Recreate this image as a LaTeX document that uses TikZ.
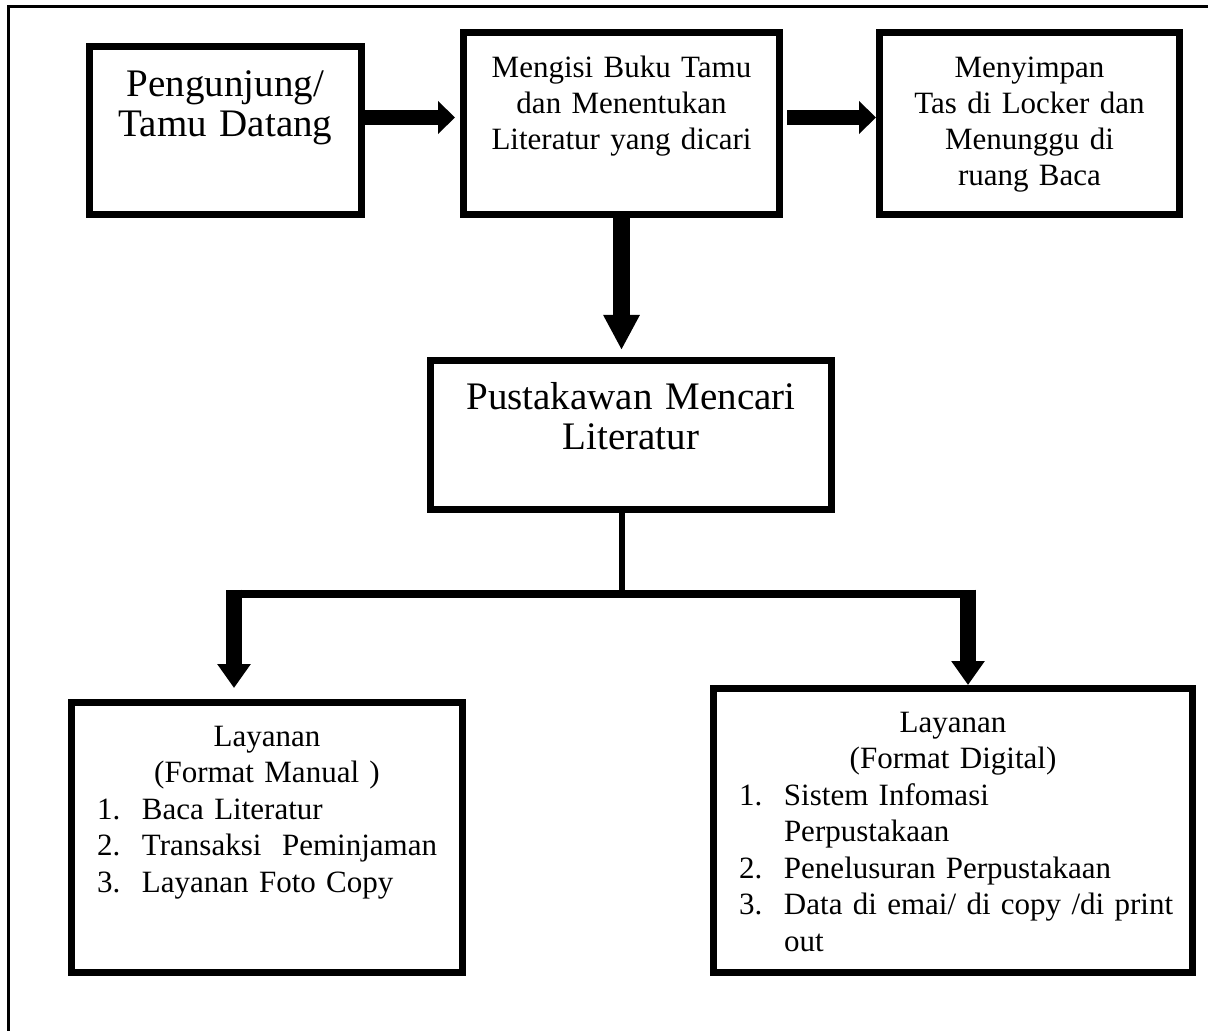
\documentclass[tikz,border=0pt]{standalone}
\usepackage{fontspec}
\setmainfont{Liberation Serif}
\usetikzlibrary{
arrows.meta,
positioning
}

\newcommand{\numrow}[2]{\hspace*{12.75pt}\makebox[22.5pt][l]{#1}#2\par}

\begin{document}
\begin{tikzpicture}[
    >={Triangle[width=16pt,length=8.5pt]},
    box/.style={draw,
      line width=3.5pt,
      inner sep=0pt},
    bigbox/.style={box, align=center, font=\fontsize{19.5}{20}\selectfont},
    smallbox/.style={box, align=center, font=\fontsize{15.5}{18}\selectfont},
    listbox/.style={box, font=\fontsize{15.5}{18.25}\selectfont},
    fat/.style={->, line width=7.5pt},
    down/.style={-{Triangle[width=17pt,length=17.5pt]}, line width=8.5pt},
    drop/.style={-{Triangle[width=16pt,length=12pt]}, line width=8pt},
    stem/.style={line width=3pt},
    bus/.style={line width=4pt}
  ]
  \useasboundingbox (0,0) rectangle (604pt,-515.5pt);
  \draw[line width=1.5pt] (4.35pt,-515.5pt) |- (604pt,-3.25pt);

  \node[bigbox, text width=136pt, text height=25.25pt, text depth=58.75pt] (visit) at (112.75pt,-65.25pt) {Pengunjung/\\Tamu Datang};
  \node[smallbox, text width=158pt, text height=22.75pt, text depth=68.25pt, right=47.5pt of visit, yshift=3.5pt] (guestbook) {Mengisi Buku Tamu\\dan Menentukan\\Literatur yang dicari};
  \node[smallbox, text width=150pt, text height=22.75pt, text depth=68.25pt, right=46.5pt of guestbook] (locker) {Menyimpan\\Tas di Locker dan\\Menunggu di\\ruang Baca};
  \node[bigbox, text width=200.5pt, text height=24.25pt, text depth=50.25pt, below=69.5pt of guestbook, xshift=4.75pt] (search) {Pustakawan Mencari\\Literatur};
  \node[listbox, text width=195.5pt, text height=21.75pt, text depth=113.25pt, below=240.5pt of visit, xshift=20.75pt] (manual) {%
    {\centering Layanan\\(Format Manual )\par}
    \numrow{1.}{Baca Literatur}
    \numrow{2.}{Transaksi\ \ Peminjaman}
    \numrow{3.}{Layanan Foto Copy}};
  \node[listbox, text width=239.5pt, text height=21.75pt, text depth=120.25pt, right=122pt of manual, yshift=3.5pt] (digital) {%
    {\centering Layanan\\(Format Digital)\par}
    \numrow{1.}{Sistem Infomasi}
    \numrow{}{Perpustakaan}
    \numrow{2.}{Penelusuran Perpustakaan}
    \numrow{3.}{Data di emai/ di copy /di print}
    \numrow{}{out}};

  \draw[fat] ([yshift=6.5pt]visit.east) -- ([yshift=6.5pt,xshift=-2.5pt]visit.east -| guestbook.west);
  \draw[fat] ([yshift=3pt,xshift=2pt]guestbook.east) -- ([yshift=3pt]locker.west);
  \draw[down] (guestbook.south) -- ([yshift=3.5pt]guestbook.south |- search.north);

  % split towards both kinds of service
  \coordinate (split) at ([yshift=-40.25pt]guestbook.south |- search.south);
  \coordinate (lefttip) at ([xshift=-16.5pt,yshift=5.5pt]manual.north);
  \coordinate (righttip) at ([xshift=7.5pt]digital.north);
  \draw[stem] (guestbook.south |- search.south) -- (split);
  \draw[bus] ([xshift=-4pt]split -| lefttip) -- ([xshift=4pt]split -| righttip);
  \draw[drop] ([yshift=2pt]split -| lefttip) -- (lefttip);
  \draw[drop] ([yshift=2pt]split -| righttip) -- (righttip);
\end{tikzpicture}
\end{document}
